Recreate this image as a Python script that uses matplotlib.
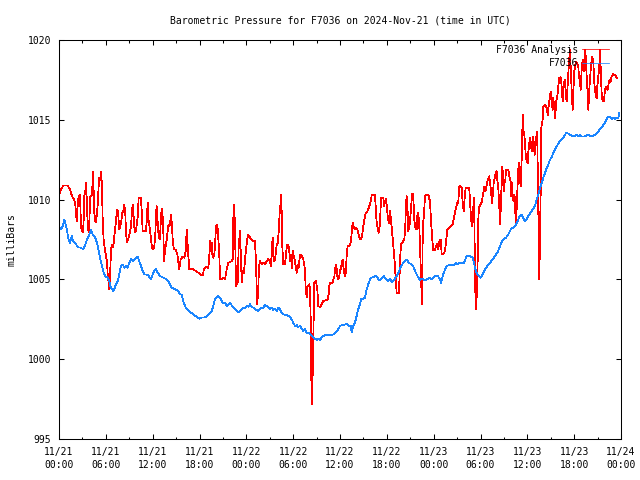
import numpy as np
import matplotlib
matplotlib.use('Agg')
import matplotlib.pyplot as plt

# Chart text
title = 'Barometric Pressure for F7036 on 2024-Nov-21 (time in UTC)'
y_label = 'milliBars'
series_names = ['F7036 Analysis', 'F7036']

# X ticks every 6 hours from 11/21 00:00 UTC
tick_hours = [0, 6, 12, 18, 24, 30, 36, 42, 48, 54, 60, 66, 72]
tick_labels = ['11/21\n00:00', '11/21\n06:00', '11/21\n12:00', '11/21\n18:00',
               '11/22\n00:00', '11/22\n06:00', '11/22\n12:00', '11/22\n18:00',
               '11/23\n00:00', '11/23\n06:00', '11/23\n12:00', '11/23\n18:00',
               '11/24\n00:00']
y_ticks = [995, 1000, 1005, 1010, 1015, 1020]

# Analysis (red), hours since start and pressure in mb
analysis_hours = [
    0.0, 0.26, 0.55, 1.11, 1.41, 1.67, 1.96, 2.09, 2.27, 2.40, 2.52, 2.69, 2.82, 2.95, 3.04, 3.11,
    3.24, 3.37, 3.46, 3.59, 3.68, 3.80, 3.88, 4.01, 4.23, 4.36, 4.45, 4.52, 4.65, 4.74, 4.96, 5.09,
    5.16, 5.29, 5.38, 5.51, 5.60, 5.73, 5.89, 6.02, 6.15, 6.24, 6.37, 6.44, 6.53, 6.66, 6.79, 6.88,
    7.01, 7.14, 7.30, 7.43, 7.56, 7.72, 7.85, 7.98, 8.11, 8.24, 8.37, 8.49, 8.58, 8.71, 8.84, 9.01,
    9.22, 9.35, 9.44, 9.57, 9.70, 9.86, 10.08, 10.21, 10.50, 10.63, 10.72, 11.14, 11.27, 11.36, 11.49, 11.66,
    11.79, 11.91, 12.08, 12.21, 12.34, 12.43, 12.52, 12.64, 12.77, 12.94, 13.07, 13.23, 13.36, 13.45, 13.58, 13.80,
    14.00, 14.22, 14.35, 14.48, 14.57, 14.73, 14.95, 15.16, 15.28, 15.41, 15.59, 15.80, 16.05, 16.23, 16.36, 16.53,
    16.69, 17.20, 17.55, 17.85, 18.06, 18.41, 18.57, 18.79, 19.13, 19.25, 19.34, 19.47, 19.56, 19.64, 19.77, 19.89,
    19.98, 20.11, 20.28, 20.41, 20.54, 20.63, 20.84, 21.05, 21.27, 21.48, 21.69, 22.12, 22.25, 22.33, 22.42, 22.55,
    22.67, 22.89, 23.02, 23.19, 23.32, 23.41, 23.53, 23.70, 23.83, 23.96, 24.12, 24.25, 24.47, 24.89, 25.11, 25.24,
    25.33, 25.40, 25.53, 25.62, 25.75, 25.97, 26.17, 26.39, 26.61, 26.81, 27.03, 27.16, 27.29, 27.38, 27.45, 27.58,
    27.71, 27.89, 28.02, 28.15, 28.31, 28.40, 28.48, 28.61, 28.73, 28.95, 29.08, 29.21, 29.37, 29.50, 29.59, 29.72,
    29.85, 29.94, 30.07, 30.19, 30.32, 30.45, 30.58, 30.71, 30.87, 31.09, 31.30, 31.51, 31.60, 31.73, 31.86, 32.06,
    32.15, 32.24, 32.32, 32.41, 32.50, 32.58, 32.71, 32.92, 33.09, 33.22, 33.44, 33.65, 33.86, 34.42, 34.55, 34.63,
    34.72, 35.06, 35.14, 35.27, 35.36, 35.49, 35.58, 35.70, 35.87, 36.00, 36.13, 36.25, 36.34, 36.42, 36.55, 36.68,
    36.77, 36.86, 36.98, 37.28, 37.41, 37.53, 37.62, 37.70, 37.88, 38.05, 38.21, 38.39, 38.56, 38.78, 38.91, 39.07,
    39.29, 39.50, 39.62, 39.75, 39.93, 40.06, 40.48, 40.61, 40.70, 40.83, 40.96, 41.12, 41.21, 41.29, 41.55, 41.63,
    41.76, 41.89, 41.98, 42.11, 42.24, 42.40, 42.53, 42.66, 42.83, 42.95, 43.17, 43.26, 43.56, 43.68, 43.81, 44.03,
    44.24, 44.36, 44.45, 44.54, 44.67, 44.75, 44.88, 44.96, 45.18, 45.26, 45.39, 45.48, 45.61, 45.82, 45.90, 46.03,
    46.16, 46.25, 46.34, 46.41, 46.50, 46.59, 46.67, 46.76, 46.89, 47.31, 47.53, 47.65, 47.82, 47.95, 48.17, 48.30,
    48.46, 48.59, 48.72, 48.90, 49.03, 49.23, 49.45, 49.58, 49.74, 50.00, 50.18, 50.44, 50.60, 50.82, 51.03, 51.15,
    51.28, 51.46, 51.59, 51.72, 51.85, 51.97, 52.10, 52.56, 52.65, 52.78, 52.91, 53.04, 53.13, 53.20, 53.29, 53.38,
    53.46, 53.55, 53.64, 53.72, 53.80, 54.02, 54.19, 54.28, 54.41, 54.48, 54.57, 54.70, 54.83, 54.96, 55.12, 55.21,
    55.34, 55.47, 55.56, 55.69, 55.82, 55.94, 56.07, 56.15, 56.28, 56.37, 56.46, 56.53, 56.62, 56.71, 56.79, 56.88,
    56.97, 57.04, 57.17, 57.26, 57.56, 57.69, 57.86, 57.94, 58.03, 58.12, 58.25, 58.33, 58.42, 58.51, 58.63, 58.71,
    58.84, 58.97, 59.06, 59.15, 59.27, 59.35, 59.44, 59.53, 59.61, 59.70, 59.79, 59.91, 60.04, 60.12, 60.25, 60.38,
    60.50, 60.63, 60.76, 60.85, 60.94, 61.07, 61.20, 61.27, 61.36, 61.45, 61.53, 61.62, 61.71, 61.75, 61.96, 62.04,
    62.26, 62.48, 62.61, 62.68, 62.81, 62.99, 63.12, 63.25, 63.32, 63.45, 63.58, 63.67, 63.84, 63.96, 64.09, 64.27,
    64.40, 64.53, 64.61, 64.69, 64.82, 64.95, 65.04, 65.17, 65.30, 65.46, 65.59, 65.72, 65.81, 65.89, 66.01, 66.14,
    66.23, 66.40, 66.53, 66.62, 66.74, 66.83, 66.96, 67.09, 67.17, 67.29, 67.42, 67.51, 67.60, 67.73, 67.81, 67.94,
    68.02, 68.15, 68.28, 68.37, 68.45, 68.58, 68.67, 68.79, 68.88, 68.96, 69.09, 69.22, 69.31, 69.43, 69.52, 69.65,
    69.82, 69.94, 70.07, 70.29, 70.42, 70.55, 70.68, 70.80, 71.01, 71.23, 71.36, 71.52]
analysis_mb = [
    1010.31, 1010.63, 1010.88, 1010.88, 1010.63, 1010.21, 1010.0, 1009.69, 1008.64, 1009.69, 1010.21, 1010.31, 1008.33, 1008.02, 1008.33, 1007.94,
    1010.21, 1010.52, 1011.06, 1009.58, 1008.33, 1007.94, 1008.56, 1010.21, 1010.31, 1011.77, 1010.21, 1009.19, 1008.64, 1008.56, 1009.69, 1010.94,
    1011.38, 1011.25, 1011.77, 1010.83, 1008.56, 1007.39, 1006.88, 1006.46, 1006.06, 1005.31, 1004.69, 1004.38, 1005.0, 1006.88, 1007.19, 1007.0,
    1007.31, 1007.94, 1008.64, 1009.38, 1009.27, 1008.13, 1008.33, 1008.64, 1009.19, 1009.27, 1009.69, 1009.19, 1007.94, 1007.31, 1007.5, 1007.81,
    1008.33, 1009.27, 1009.69, 1008.88, 1007.94, 1008.02, 1008.88, 1010.13, 1010.13, 1008.96, 1008.02, 1008.02, 1008.88, 1009.81, 1008.64, 1008.13,
    1007.5, 1007.0, 1006.88, 1007.08, 1007.81, 1009.19, 1009.58, 1008.56, 1007.71, 1007.5, 1009.06, 1009.42, 1008.13, 1006.14, 1006.77, 1007.5,
    1008.33, 1008.44, 1009.06, 1008.33, 1007.39, 1006.88, 1006.88, 1006.56, 1006.14, 1005.63, 1006.25, 1006.42, 1006.36, 1006.77, 1008.13, 1006.77,
    1005.63, 1005.63, 1005.52, 1005.42, 1005.31, 1005.25, 1005.63, 1005.79, 1005.73, 1006.36, 1007.39, 1006.77, 1007.29, 1006.56, 1006.36, 1006.56,
    1006.98, 1008.33, 1008.44, 1007.61, 1006.46, 1005.0, 1005.0, 1005.11, 1005.0, 1005.63, 1006.04, 1006.14, 1006.25, 1008.75, 1009.69, 1008.33,
    1004.58, 1004.79, 1007.08, 1008.02, 1006.04, 1004.83, 1005.52, 1005.42, 1006.25, 1006.88, 1007.5, 1007.81, 1007.61, 1007.39, 1007.39, 1006.04,
    1004.38, 1003.44, 1004.38, 1005.83, 1006.14, 1005.94, 1006.04, 1005.94, 1006.14, 1006.29, 1006.14, 1005.83, 1007.08, 1007.61, 1006.46, 1006.14,
    1006.36, 1007.19, 1007.29, 1008.02, 1009.58, 1009.38, 1010.31, 1007.08, 1005.94, 1005.94, 1006.56, 1007.19, 1007.19, 1006.77, 1006.14, 1006.56,
    1005.73, 1006.77, 1006.46, 1006.25, 1005.83, 1005.42, 1005.94, 1005.73, 1006.56, 1006.46, 1006.25, 1005.63, 1004.48, 1003.86, 1004.58, 1004.69,
    1004.38, 1002.61, 998.96, 997.19, 999.17, 1001.36, 1004.79, 1004.89, 1004.38, 1003.33, 1003.27, 1003.44, 1003.64, 1003.75, 1004.06, 1004.58,
    1004.79, 1004.79, 1005.0, 1005.11, 1005.67, 1005.94, 1005.63, 1005.0, 1005.11, 1005.52, 1005.73, 1006.14, 1006.25, 1005.83, 1005.42, 1005.21,
    1005.63, 1006.56, 1007.08, 1007.13, 1007.39, 1008.13, 1008.54, 1008.33, 1008.13, 1008.23, 1008.13, 1007.81, 1007.5, 1007.61, 1008.02, 1008.64,
    1009.17, 1009.27, 1009.42, 1009.58, 1009.89, 1010.27, 1010.27, 1009.27, 1008.54, 1008.23, 1007.92, 1008.44, 1009.58, 1010.11, 1010.11, 1009.58,
    1009.89, 1010.04, 1009.69, 1008.96, 1008.54, 1009.27, 1008.75, 1008.02, 1007.08, 1006.46, 1004.79, 1004.13, 1004.13, 1006.04, 1007.19, 1007.33,
    1007.5, 1008.23, 1009.69, 1010.21, 1009.17, 1008.02, 1008.33, 1008.54, 1010.0, 1010.38, 1010.38, 1008.96, 1008.33, 1008.13, 1008.96, 1009.17,
    1008.33, 1007.08, 1005.83, 1004.89, 1003.44, 1007.5, 1008.64, 1009.06, 1010.25, 1010.31, 1009.89, 1008.75, 1007.5, 1006.83, 1006.83, 1007.08,
    1007.25, 1006.88, 1007.39, 1007.5, 1006.56, 1006.56, 1006.77, 1007.29, 1008.13, 1008.23, 1008.33, 1008.44, 1008.86, 1009.38, 1009.79, 1009.79,
    1010.83, 1010.83, 1010.73, 1009.79, 1009.27, 1010.11, 1010.73, 1010.73, 1010.0, 1008.86, 1008.33, 1008.96, 1010.11, 1009.27, 1005.42, 1003.33,
    1003.13, 1004.79, 1006.25, 1008.75, 1009.48, 1009.69, 1009.89, 1010.21, 1010.52, 1010.83, 1010.52, 1010.63, 1011.04, 1011.25, 1011.46, 1011.04,
    1010.63, 1009.79, 1010.21, 1011.04, 1011.36, 1011.67, 1011.77, 1011.25, 1010.73, 1009.79, 1009.17, 1008.44, 1010.0, 1010.94, 1012.08, 1011.56,
    1010.52, 1011.04, 1011.14, 1011.88, 1011.88, 1011.46, 1011.14, 1010.21, 1011.04, 1010.0, 1009.89, 1010.31, 1010.0, 1008.44, 1009.38, 1010.42,
    1011.88, 1012.29, 1011.25, 1010.83, 1012.5, 1014.17, 1015.31, 1014.17, 1014.06, 1013.54, 1012.81, 1012.39, 1012.29, 1012.92, 1013.54, 1013.86,
    1013.23, 1013.02, 1013.96, 1013.33, 1012.81, 1013.44, 1014.17, 1014.27, 1010.63, 1008.13, 1005.0, 1007.5, 1010.52, 1014.38, 1015.0, 1015.83,
    1015.94, 1015.73, 1015.31, 1015.63, 1016.14, 1016.77, 1016.04, 1015.63, 1016.36, 1015.83, 1015.11, 1016.14, 1016.46, 1017.08, 1017.61, 1017.67,
    1017.08, 1016.14, 1016.67, 1017.29, 1017.5, 1016.46, 1016.14, 1017.29, 1018.33, 1019.38, 1017.92, 1016.36, 1015.63, 1016.67, 1018.02, 1018.44,
    1018.64, 1018.54, 1018.33, 1017.71, 1017.39, 1016.88, 1018.13, 1018.75, 1018.33, 1018.02, 1019.38, 1018.75, 1017.71, 1016.67, 1015.63, 1016.88,
    1017.5, 1018.33, 1018.96, 1018.86, 1018.64, 1017.29, 1016.88, 1016.46, 1016.36, 1017.08, 1017.71, 1018.33, 1019.38, 1017.92, 1016.67, 1016.14,
    1016.14, 1016.88, 1017.08, 1016.88, 1017.29, 1017.5, 1017.39, 1017.71, 1017.86, 1017.81, 1017.71, 1017.61]

# Station F7036 (blue)
station_hours = [
    0.0, 0.26, 0.47, 0.68, 0.81, 0.99, 1.24, 1.41, 1.63, 1.83, 2.09, 2.40, 2.82, 3.11, 3.37, 3.68,
    3.88, 4.10, 4.32, 4.65, 4.87, 5.09, 5.29, 5.51, 5.73, 5.93, 6.24, 6.44, 6.57, 6.79, 6.96, 7.14,
    7.30, 7.52, 7.72, 7.94, 8.16, 8.37, 8.58, 8.80, 9.01, 9.22, 9.44, 9.65, 9.86, 10.08, 10.29, 10.50,
    10.72, 10.93, 11.24, 11.49, 11.79, 12.00, 12.21, 12.43, 12.64, 12.94, 13.36, 13.80, 14.13, 14.44, 14.86, 15.28,
    15.50, 15.72, 15.92, 16.14, 16.36, 16.69, 17.00, 17.33, 17.64, 17.97, 18.28, 18.70, 19.13, 19.34, 19.56, 19.77,
    19.98, 20.20, 20.41, 20.62, 20.84, 21.05, 21.27, 21.48, 21.69, 21.91, 22.12, 22.33, 22.55, 22.76, 22.97, 23.19,
    23.41, 23.61, 23.83, 24.05, 24.25, 24.47, 24.69, 24.89, 25.11, 25.33, 25.53, 25.75, 25.97, 26.17, 26.39, 26.61,
    26.81, 27.03, 27.25, 27.45, 27.67, 27.89, 28.09, 28.31, 28.53, 28.73, 29.17, 29.50, 29.81, 30.01, 30.23, 30.45,
    30.66, 30.87, 31.09, 31.30, 31.51, 31.73, 31.94, 32.15, 32.37, 32.58, 32.79, 33.01, 33.22, 33.44, 33.65, 33.86,
    34.08, 34.50, 34.93, 35.14, 35.36, 35.58, 35.78, 36.00, 36.22, 36.86, 37.19, 37.37, 37.50, 37.70, 37.92, 38.13,
    38.34, 38.56, 38.69, 38.98, 39.20, 39.42, 39.62, 39.84, 40.06, 40.35, 40.61, 40.78, 41.03, 41.34, 41.63, 41.89,
    42.19, 42.40, 42.62, 42.83, 43.04, 43.26, 43.47, 43.68, 43.90, 44.11, 44.32, 44.54, 44.75, 44.96, 45.18, 45.39,
    45.61, 45.82, 46.03, 46.25, 46.46, 46.67, 46.89, 47.10, 47.31, 47.53, 47.74, 47.95, 48.17, 48.39, 48.59, 48.81,
    48.94, 49.15, 49.45, 49.66, 50.09, 50.51, 50.86, 51.03, 51.24, 51.59, 51.88, 52.14, 52.31, 52.65, 53.00, 53.16,
    53.29, 53.42, 53.59, 53.84, 54.02, 54.28, 54.57, 54.87, 55.21, 55.56, 55.85, 56.15, 56.49, 56.71, 56.92, 57.26,
    57.56, 57.78, 57.99, 58.20, 58.42, 58.63, 58.84, 59.06, 59.27, 59.48, 59.70, 59.91, 60.12, 60.34, 60.55, 60.76,
    60.98, 61.20, 61.40, 61.62, 61.84, 62.04, 62.26, 62.48, 62.68, 62.91, 63.12, 63.32, 63.55, 63.76, 63.96, 64.18,
    64.61, 64.82, 65.04, 65.24, 65.46, 65.89, 66.32, 66.53, 66.74, 66.96, 67.38, 67.81, 68.24, 68.67, 69.09, 69.52,
    69.94, 70.16, 70.37, 70.58, 70.80, 71.01, 71.23, 71.44, 71.65, 71.78]
station_mb = [
    1008.33, 1008.13, 1008.33, 1008.75, 1008.54, 1008.13, 1007.5, 1007.29, 1007.71, 1007.39, 1007.29, 1007.02, 1006.98, 1006.88, 1007.19, 1007.61,
    1007.81, 1008.08, 1007.81, 1007.61, 1007.29, 1006.77, 1006.25, 1005.83, 1005.42, 1005.17, 1005.11, 1004.89, 1004.58, 1004.38, 1004.27, 1004.48,
    1004.69, 1004.89, 1005.31, 1005.83, 1005.94, 1005.73, 1005.83, 1005.73, 1006.04, 1006.29, 1006.14, 1006.25, 1006.36, 1006.42, 1006.14, 1005.83,
    1005.52, 1005.31, 1005.31, 1005.21, 1005.0, 1005.31, 1005.52, 1005.63, 1005.42, 1005.21, 1005.11, 1005.0, 1004.79, 1004.48, 1004.38, 1004.27,
    1004.06, 1004.06, 1003.64, 1003.33, 1003.13, 1003.02, 1002.88, 1002.75, 1002.67, 1002.54, 1002.61, 1002.61, 1002.81, 1002.92, 1003.02, 1003.33,
    1003.75, 1003.86, 1003.96, 1003.86, 1003.64, 1003.5, 1003.54, 1003.33, 1003.44, 1003.54, 1003.38, 1003.23, 1003.13, 1003.02, 1002.92, 1003.02,
    1003.13, 1003.23, 1003.23, 1003.33, 1003.29, 1003.44, 1003.29, 1003.23, 1003.13, 1003.08, 1003.02, 1003.13, 1003.23, 1003.23, 1003.38, 1003.33,
    1003.23, 1003.13, 1003.23, 1003.08, 1003.17, 1003.02, 1003.23, 1003.13, 1002.92, 1002.81, 1002.75, 1002.71, 1002.5, 1002.29, 1002.08, 1002.13,
    1002.02, 1002.08, 1001.92, 1001.77, 1001.88, 1001.67, 1001.63, 1001.61, 1001.5, 1001.36, 1001.29, 1001.21, 1001.29, 1001.21, 1001.36, 1001.46,
    1001.5, 1001.5, 1001.5, 1001.56, 1001.67, 1001.77, 1001.88, 1002.08, 1002.14, 1002.19, 1002.08, 1002.08, 1001.71, 1002.08, 1002.29, 1002.71,
    1003.13, 1003.44, 1003.75, 1003.79, 1003.86, 1004.38, 1004.69, 1005.0, 1005.11, 1005.17, 1005.25, 1005.11, 1004.96, 1005.04, 1005.21, 1005.0,
    1004.89, 1005.04, 1004.83, 1004.89, 1005.04, 1005.21, 1005.42, 1005.67, 1005.88, 1006.04, 1006.14, 1006.25, 1006.08, 1006.0, 1005.94, 1005.83,
    1005.52, 1005.31, 1005.11, 1004.96, 1005.04, 1005.0, 1004.96, 1005.0, 1005.04, 1005.11, 1005.0, 1005.11, 1005.21, 1005.25, 1005.17, 1005.0,
    1004.75, 1005.21, 1005.63, 1005.83, 1005.94, 1005.88, 1006.04, 1005.94, 1006.04, 1006.0, 1006.04, 1006.36, 1006.5, 1006.46, 1006.36, 1006.04,
    1005.73, 1005.52, 1005.31, 1005.21, 1005.11, 1005.31, 1005.63, 1005.83, 1006.04, 1006.25, 1006.46, 1006.67, 1007.08, 1007.33, 1007.5, 1007.61,
    1007.81, 1008.02, 1008.23, 1008.23, 1008.33, 1008.5, 1008.75, 1009.0, 1009.06, 1008.86, 1008.64, 1008.79, 1008.96, 1009.13, 1009.27, 1009.42,
    1009.63, 1010.0, 1010.31, 1010.73, 1011.04, 1011.36, 1011.67, 1011.98, 1012.19, 1012.5, 1012.67, 1012.94, 1013.13, 1013.34, 1013.5, 1013.66,
    1013.86, 1014.06, 1014.21, 1014.13, 1014.06, 1013.96, 1014.06, 1013.96, 1014.06, 1013.96, 1013.96, 1014.06, 1013.96, 1014.06, 1014.27, 1014.54,
    1014.79, 1015.04, 1015.21, 1015.17, 1015.04, 1015.11, 1015.06, 1015.11, 1015.11, 1015.42]

plt.rcParams['font.family'] = 'DejaVu Sans Mono'
plt.rcParams['font.size'] = 7

fig = plt.figure(figsize=(6.4, 4.8), dpi=100)
ax = fig.add_axes([59 / 640, 41 / 480, 562 / 640, 399 / 480])

# 1 px wide jagged lines, like the original gnuplot png
ax.plot(analysis_hours, analysis_mb, color='#ff0000', lw=0.55, antialiased=False, label=series_names[0])
ax.plot(station_hours, station_mb, color='#1a85ff', lw=0.55, antialiased=False, label=series_names[1])

ax.set_xlim(0, 72)
ax.set_ylim(995, 1020)
ax.set_xticks(tick_hours)
ax.set_xticklabels(tick_labels, linespacing=1.3)
ax.set_xticks(np.arange(0, 73, 3), minor=True)
ax.set_yticks(y_ticks)

ax.tick_params(which='both', direction='in', top=True, right=True, width=0.75, color='black')
ax.tick_params(which='major', length=3.3)
ax.tick_params(which='minor', length=1.8)
ax.tick_params(axis='x', pad=6)
ax.tick_params(axis='y', pad=5.5)
for s in ax.spines.values():
    s.set_linewidth(0.75)

ax.set_ylabel(y_label, labelpad=8)
ax.set_title(title, pad=12, fontsize=7)

ax.legend(loc='upper right', bbox_to_anchor=(0.979, 0.988), frameon=False, markerfirst=False,
          handlelength=2.8, handletextpad=0.4, labelspacing=0.35, borderpad=0, borderaxespad=0)

fig.savefig('out.png', dpi=100)
